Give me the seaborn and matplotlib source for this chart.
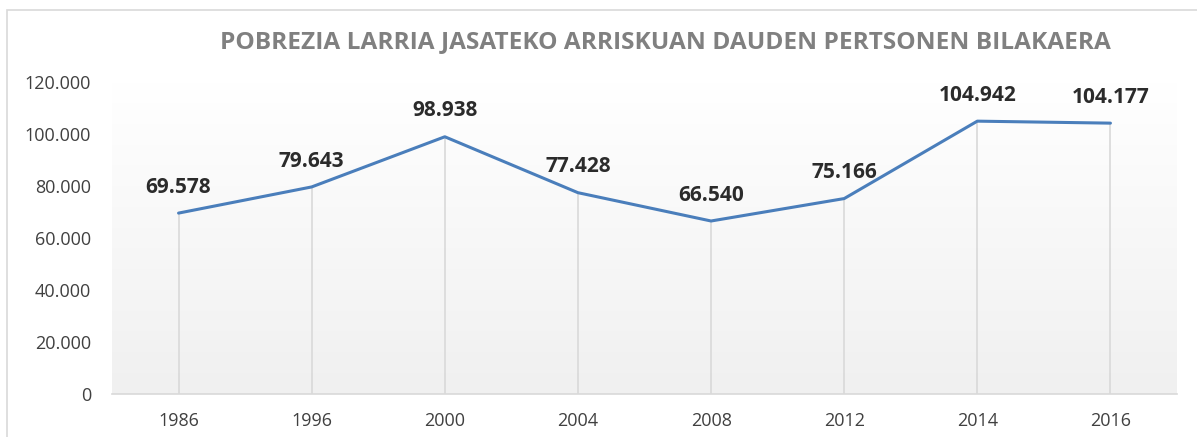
import numpy as np
import pandas as pd
import seaborn as sns
import matplotlib.pyplot as plt
from matplotlib.patches import Rectangle

years = ['1986', '1996', '2000', '2004', '2008', '2012', '2014', '2016']
people = [69578, 79643, 98938, 77428, 66540, 75166, 104942, 104177]
labels = ['69.578', '79.643', '98.938', '77.428', '66.540', '75.166', '104.942', '104.177']
yticks = [0, 20000, 40000, 60000, 80000, 100000, 120000]
ytick_labels = ['0', '20.000', '40.000', '60.000', '80.000', '100.000', '120.000']

sns.set_style('white')
plt.rcParams['font.family'] = ['Open Sans', 'DejaVu Sans']

df = pd.DataFrame({'Year': years, 'People': people})

fig = plt.figure(figsize=(11.97, 4.37), dpi=100)
ax = fig.add_axes([112 / 1197, 1 - 394 / 437, 1065 / 1197, 312 / 437])

# outer chart border
fig.patches.append(Rectangle((7 / 1197, -0.05), 1.2, 1 - 10 / 437 + 0.05,
                             transform=fig.transFigure, fill=False,
                             edgecolor='#d9d9d9', linewidth=1.2))

# gradient background (white on top, light grey below)
grad = np.linspace(0, 1, 256).reshape(-1, 1)
ax.imshow(grad, aspect='auto', cmap=plt.matplotlib.colors.LinearSegmentedColormap.from_list(
    'bg', ['#f0f0f0', '#ffffff']), extent=[-0.5, 7.5, 0, 120000], origin='lower', zorder=0)

sns.lineplot(data=df, x='Year', y='People', ax=ax, color='#4a7ebb', linewidth=2.2,
             sort=False, zorder=3)

x = np.arange(len(years))
ax.vlines(x, 0, people, color='#d9d9d9', linewidth=1.2, zorder=2)

for xi, yi, lab in zip(x, people, labels):
    ax.annotate(lab, (xi, yi), xytext=(0, 11), textcoords='offset points',
                ha='center', va='bottom', fontsize=15, fontweight='bold', color='#2b2b2b')

ax.set_xlim(-0.5, 7.5)
ax.set_ylim(0, 120000)
ax.set_yticks(yticks)
ax.set_yticklabels(ytick_labels)
ax.set_xlabel('')
ax.set_ylabel('')
ax.tick_params(axis='both', length=0, labelsize=13, colors='#404040')
ax.tick_params(axis='y', pad=15)
ax.tick_params(axis='x', pad=13)
for s in ['left', 'right', 'top']:
    ax.spines[s].set_visible(False)
ax.spines['bottom'].set_color('#d9d9d9')
ax.spines['bottom'].set_linewidth(1.2)

fig.text(665 / 1197, 1 - 42 / 437, 'POBREZIA LARRIA JASATEKO ARRISKUAN DAUDEN PERTSONEN BILAKAERA',
         ha='center', va='center', fontsize=17.6, fontweight='bold', color='#808080')

fig.savefig('out.png', dpi=100)
